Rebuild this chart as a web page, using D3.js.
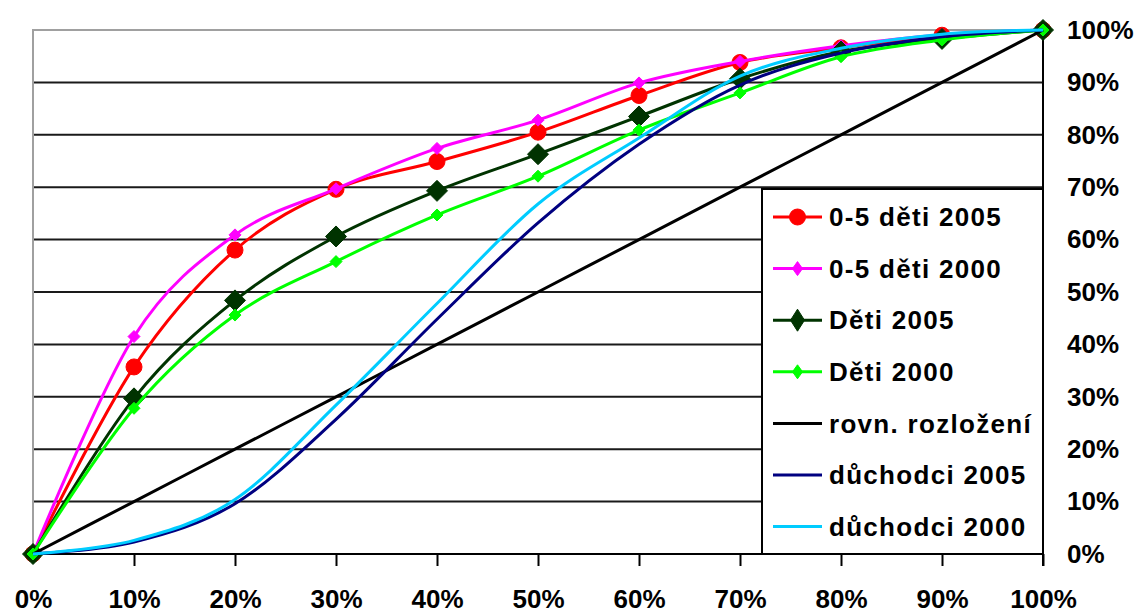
<!DOCTYPE html>
<html>
<head>
<meta charset="utf-8">
<script src="https://cdn.jsdelivr.net/npm/d3@7"></script>
<style>
  html, body { margin: 0; padding: 0; background: #fff; }
  svg { display: block; }
  text { font-family: "Liberation Sans", Arial, sans-serif; font-weight: bold; fill: #000; }
</style>
</head>
<body>
<svg id="chart" width="1143" height="613"></svg>
<script>
// Cumulative shares (%) at each decile of households
const shares = [0, 10, 20, 30, 40, 50, 60, 70, 80, 90, 100];
const deti0to5_2005 = [0, 35.7, 58.0, 69.6, 74.9, 80.5, 87.5, 93.8, 96.6, 99.0, 100];
const deti0to5_2000 = [0, 41.5, 60.9, 69.7, 77.4, 82.8, 89.9, 94.0, 97.0, 99.1, 100];
const deti2005 = [0, 29.7, 48.4, 60.6, 69.3, 76.3, 83.5, 90.7, 95.9, 98.3, 100];
const deti2000 = [0, 27.8, 45.6, 55.8, 64.7, 72.1, 80.9, 88.0, 94.9, 98.1, 100];
const rovnomerne = [0, 10, 20, 30, 40, 50, 60, 70, 80, 90, 100];
const duchodci2005 = [0, 2.3, 9.6, 25.7, 44.8, 63.2, 78.2, 89.5, 95.6, 98.7, 100];
const duchodci2000 = [0, 2.6, 10.4, 28.4, 47.8, 66.8, 79.4, 91.2, 96.5, 99.2, 100];

const seriesNames = ["0-5 děti 2005", "0-5 děti 2000", "Děti 2005", "Děti 2000",
                     "rovn. rozložení", "důchodci 2005", "důchodci 2000"];
const xTickLabels = ["0%", "10%", "20%", "30%", "40%", "50%", "60%", "70%", "80%", "90%", "100%"];
const yTickLabels = ["0%", "10%", "20%", "30%", "40%", "50%", "60%", "70%", "80%", "90%", "100%"];

const series = [
  { name: seriesNames[0], values: deti0to5_2005, color: "#ff0000", marker: "circle" },
  { name: seriesNames[1], values: deti0to5_2000, color: "#ff00ff", marker: "smallDiamond" },
  { name: seriesNames[2], values: deti2005, color: "#003300", marker: "bigDiamond" },
  { name: seriesNames[3], values: deti2000, color: "#00ff00", marker: "smallDiamond" },
  { name: seriesNames[4], values: rovnomerne, color: "#000000", marker: null },
  { name: seriesNames[5], values: duchodci2005, color: "#000080", marker: null },
  { name: seriesNames[6], values: duchodci2000, color: "#00ccff", marker: null }
];

const svg = d3.select("#chart");
const plotLeft = 33, plotRight = 1043, plotTop = 30, plotBottom = 554;

const x = d3.scaleLinear().domain([0, 100]).range([plotLeft, plotRight]);
const y = d3.scaleLinear().domain([0, 100]).range([plotBottom, plotTop]);

// horizontal gridlines
svg.append("g").selectAll("line")
  .data(d3.range(10, 100, 10))
  .join("line")
  .attr("x1", plotLeft).attr("x2", plotRight)
  .attr("y1", d => y(d)).attr("y2", d => y(d))
  .attr("stroke", "#1a1a1a").attr("stroke-width", 2);

// plot-area border (top and left, grey)
svg.append("path")
  .attr("d", `M${plotLeft},${plotBottom}V${plotTop}H${plotRight}`)
  .attr("fill", "none").attr("stroke", "#a0a0a0").attr("stroke-width", 2);

// bottom axis
const xAxis = d3.axisBottom(x)
  .tickValues(shares)
  .tickFormat((d, i) => xTickLabels[i])
  .tickSize(12).tickPadding(24);
const gx = svg.append("g").attr("transform", `translate(0,${plotBottom})`).call(xAxis);
gx.select(".domain").remove();
gx.selectAll(".tick line").attr("stroke", "#000").attr("stroke-width", 2)
  .filter(d => d === 0).remove();
gx.selectAll(".tick text").style("font-size", "26px").attr("fill", "#000");

svg.append("line")
  .attr("x1", plotLeft).attr("x2", plotRight).attr("y1", plotBottom).attr("y2", plotBottom)
  .attr("stroke", "#000").attr("stroke-width", 2);

// right value axis
const yAxis = d3.axisRight(y)
  .tickValues(shares)
  .tickFormat((d, i) => yTickLabels[i])
  .tickSize(0).tickPadding(24);
const gy = svg.append("g").attr("transform", `translate(${plotRight},0)`).call(yAxis);
gy.select(".domain").remove();
gy.selectAll(".tick text").style("font-size", "26px").attr("fill", "#000");

svg.append("line")
  .attr("x1", plotRight).attr("x2", plotRight).attr("y1", plotTop).attr("y2", plotBottom + 12)
  .attr("stroke", "#000").attr("stroke-width", 2);

// legend box
const legendBox = { x: 762, y: 189 };
svg.append("rect")
  .attr("x", legendBox.x).attr("y", legendBox.y)
  .attr("width", plotRight - legendBox.x).attr("height", plotBottom - legendBox.y)
  .attr("fill", "#fff").attr("stroke", "#000").attr("stroke-width", 2);

function drawMarker(g, type, color, cx, cy, inLegend) {
  if (type === "circle") {
    g.append("circle").attr("cx", cx).attr("cy", cy).attr("r", 8)
      .attr("fill", color).attr("stroke", color).attr("stroke-width", 1);
  } else if (type === "smallDiamond") {
    const hw = inLegend ? 5 : 6, hh = inLegend ? 7 : 6;
    g.append("path")
      .attr("d", `M${cx},${cy - hh}L${cx + hw},${cy}L${cx},${cy + hh}L${cx - hw},${cy}Z`)
      .attr("fill", color).attr("stroke", color).attr("stroke-width", 1);
  } else if (type === "bigDiamond") {
    const hw = inLegend ? 7 : 10.5, hh = inLegend ? 11 : 10.5;
    g.append("path")
      .attr("d", `M${cx},${cy - hh}L${cx + hw},${cy}L${cx},${cy + hh}L${cx - hw},${cy}Z`)
      .attr("fill", color).attr("stroke", color).attr("stroke-width", 1);
  }
}

const line = d3.line()
  .x((d, i) => x(shares[i]))
  .y(d => y(d))
  .curve(d3.curveCardinal.tension(0));

series.forEach(s => {
  const g = svg.append("g");
  g.append("path")
    .attr("d", line(s.values))
    .attr("fill", "none")
    .attr("stroke", s.color)
    .attr("stroke-width", 3)
    .attr("stroke-linejoin", "round");
  if (s.marker) {
    s.values.forEach((v, i) => drawMarker(g, s.marker, s.color, x(shares[i]), y(v), false));
  }
});

// legend entries
const rowY0 = 217, rowStep = 51.6;
series.forEach((s, i) => {
  const cy = rowY0 + i * rowStep;
  const g = svg.append("g");
  g.append("line")
    .attr("x1", 773).attr("x2", 822).attr("y1", cy).attr("y2", cy)
    .attr("stroke", s.color).attr("stroke-width", 3);
  if (s.marker) drawMarker(g, s.marker, s.color, 797.5, cy, true);
  g.append("text")
    .attr("x", 829).attr("y", cy).attr("dy", "0.35em")
    .style("font-size", "26px").style("letter-spacing", "1.3px")
    .text(s.name);
});
</script>
</body>
</html>
